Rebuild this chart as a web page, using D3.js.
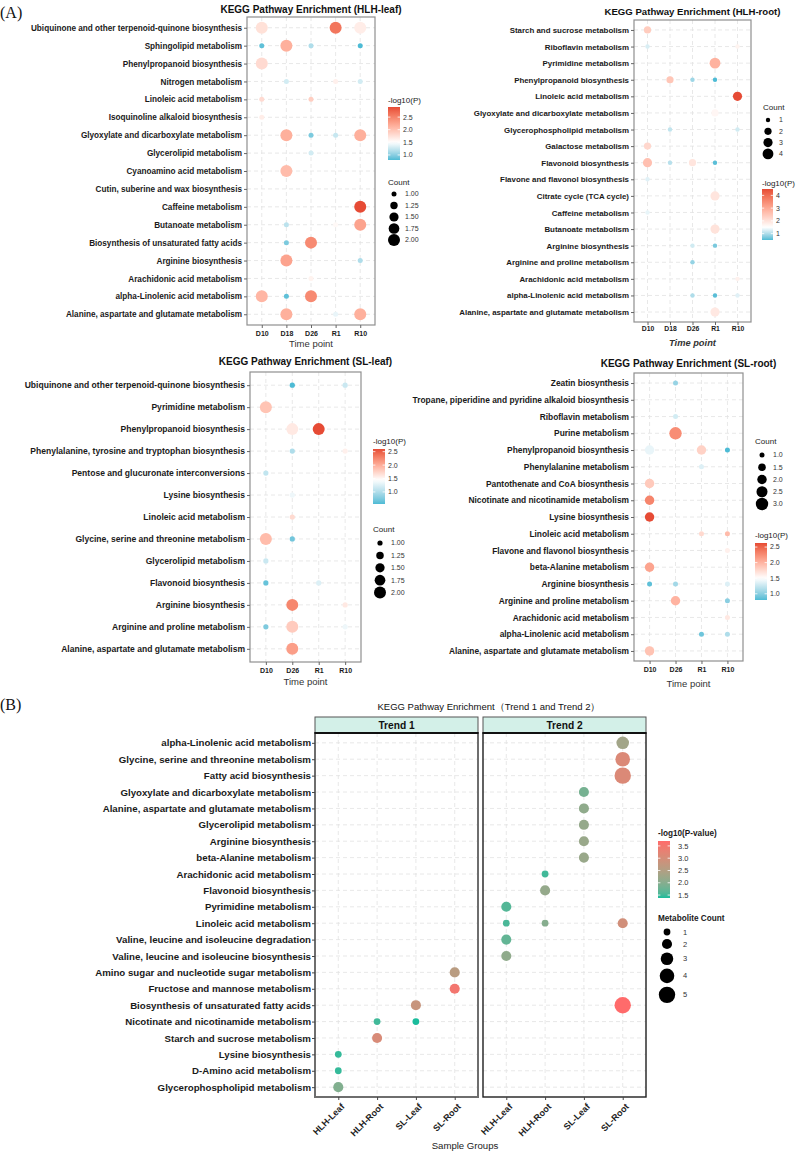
<!DOCTYPE html>
<html><head><meta charset="utf-8">
<script src="https://cdn.jsdelivr.net/npm/d3@7"></script>
<style>body{margin:0;background:#fff}</style>
</head><body>
<svg id="c" width="797" height="1152" xmlns="http://www.w3.org/2000/svg"></svg>
<script>
// ---------------- DATA ----------------
const times5 = ["D10","D18","D26","R1","R10"];
const times4 = ["D10","D26","R1","R10"];

const hlhLeafPaths = ["Ubiquinone and other terpenoid-quinone biosynthesis","Sphingolipid metabolism","Phenylpropanoid biosynthesis","Nitrogen metabolism","Linoleic acid metabolism","Isoquinoline alkaloid biosynthesis","Glyoxylate and dicarboxylate metabolism","Glycerolipid metabolism","Cyanoamino acid metabolism","Cutin, suberine and wax biosynthesis","Caffeine metabolism","Butanoate metabolism","Biosynthesis of unsaturated fatty acids","Arginine biosynthesis","Arachidonic acid metabolism","alpha-Linolenic acid metabolism","Alanine, aspartate and glutamate metabolism"];
// [pathway, time, count, -log10(P)]
const hlhLeafPoints = [
 ["Ubiquinone and other terpenoid-quinone biosynthesis","D10",2,1.75],
 ["Ubiquinone and other terpenoid-quinone biosynthesis","R1",2,2.6],
 ["Ubiquinone and other terpenoid-quinone biosynthesis","R10",2,1.65],
 ["Sphingolipid metabolism","D10",1,0.85],
 ["Sphingolipid metabolism","D18",2,2.15],
 ["Sphingolipid metabolism","D26",1,1.15],
 ["Sphingolipid metabolism","R10",1,0.8],
 ["Phenylpropanoid biosynthesis","D10",2,1.8],
 ["Nitrogen metabolism","D18",1,1.3],
 ["Nitrogen metabolism","R1",1,1.62],
 ["Nitrogen metabolism","R10",1,1.3],
 ["Linoleic acid metabolism","D10",1,1.8],
 ["Linoleic acid metabolism","D26",1,1.9],
 ["Isoquinoline alkaloid biosynthesis","D10",1,1.65],
 ["Glyoxylate and dicarboxylate metabolism","D18",2,2.15],
 ["Glyoxylate and dicarboxylate metabolism","D26",1,0.95],
 ["Glyoxylate and dicarboxylate metabolism","R1",1,1.25],
 ["Glyoxylate and dicarboxylate metabolism","R10",2,2.15],
 ["Glycerolipid metabolism","D26",1,1.3],
 ["Cyanoamino acid metabolism","D18",2,2.05],
 ["Caffeine metabolism","R10",2,2.9],
 ["Butanoate metabolism","D18",1,1.2],
 ["Butanoate metabolism","R1",1,1.55],
 ["Butanoate metabolism","R10",2,2.25],
 ["Biosynthesis of unsaturated fatty acids","D18",1,0.95],
 ["Biosynthesis of unsaturated fatty acids","D26",2,2.45],
 ["Arginine biosynthesis","D18",2,2.25],
 ["Arginine biosynthesis","R10",1,1.15],
 ["Arachidonic acid metabolism","D26",1,1.6],
 ["alpha-Linolenic acid metabolism","D10",2,2.1],
 ["alpha-Linolenic acid metabolism","D18",1,0.85],
 ["alpha-Linolenic acid metabolism","D26",2,2.45],
 ["Alanine, aspartate and glutamate metabolism","D18",2,2.15],
 ["Alanine, aspartate and glutamate metabolism","R1",1,1.4],
 ["Alanine, aspartate and glutamate metabolism","R10",2,2.15]
];
const hlhLeafColorTicks = [1.0,1.5,2.0,2.5];
const hlhLeafCountBreaks = [1,1.25,1.5,1.75,2];

const hlhRootPaths = ["Starch and sucrose metabolism","Riboflavin metabolism","Pyrimidine metabolism","Phenylpropanoid biosynthesis","Linoleic acid metabolism","Glyoxylate and dicarboxylate metabolism","Glycerophospholipid metabolism","Galactose metabolism","Flavonoid biosynthesis","Flavone and flavonol biosynthesis","Citrate cycle (TCA cycle)","Caffeine metabolism","Butanoate metabolism","Arginine biosynthesis","Arginine and proline metabolism","Arachidonic acid metabolism","alpha-Linolenic acid metabolism","Alanine, aspartate and glutamate metabolism"];
const hlhRootPoints = [
 ["Starch and sucrose metabolism","D10",2,2.4],
 ["Riboflavin metabolism","D10",1,1.25],
 ["Riboflavin metabolism","R10",1,1.7],
 ["Pyrimidine metabolism","R1",4,2.85],
 ["Phenylpropanoid biosynthesis","D18",2,2.5],
 ["Phenylpropanoid biosynthesis","D26",1,0.9],
 ["Phenylpropanoid biosynthesis","R1",1,0.5],
 ["Linoleic acid metabolism","R10",3,4.5],
 ["Glyoxylate and dicarboxylate metabolism","R1",2,1.65],
 ["Glycerophospholipid metabolism","D18",1,1.1],
 ["Glycerophospholipid metabolism","R10",1,1.2],
 ["Galactose metabolism","D10",2,2.2],
 ["Flavonoid biosynthesis","D10",3,2.6],
 ["Flavonoid biosynthesis","D18",1,1.05],
 ["Flavonoid biosynthesis","D26",2,1.95],
 ["Flavonoid biosynthesis","R1",1,0.55],
 ["Flavone and flavonol biosynthesis","D10",1,1.3],
 ["Citrate cycle (TCA cycle)","R1",3,1.95],
 ["Caffeine metabolism","D10",1,1.35],
 ["Butanoate metabolism","R1",3,2.0],
 ["Arginine biosynthesis","D26",1,1.2],
 ["Arginine biosynthesis","R1",1,0.7],
 ["Arginine and proline metabolism","D26",1,0.85],
 ["Arachidonic acid metabolism","R10",1,1.75],
 ["alpha-Linolenic acid metabolism","D26",1,1.0],
 ["alpha-Linolenic acid metabolism","R1",1,0.55],
 ["alpha-Linolenic acid metabolism","R10",1,1.3],
 ["Alanine, aspartate and glutamate metabolism","R1",3,1.9]
];
const hlhRootColorTicks = [1,2,3,4];
const hlhRootCountBreaks = [1,2,3,4];

const slLeafPaths = ["Ubiquinone and other terpenoid-quinone biosynthesis","Pyrimidine metabolism","Phenylpropanoid biosynthesis","Phenylalanine, tyrosine and tryptophan biosynthesis","Pentose and glucuronate interconversions","Lysine biosynthesis","Linoleic acid metabolism","Glycine, serine and threonine metabolism","Glycerolipid metabolism","Flavonoid biosynthesis","Arginine biosynthesis","Arginine and proline metabolism","Alanine, aspartate and glutamate metabolism"];
const slLeafPoints = [
 ["Ubiquinone and other terpenoid-quinone biosynthesis","D26",1,0.55],
 ["Ubiquinone and other terpenoid-quinone biosynthesis","R10",1,1.15],
 ["Pyrimidine metabolism","D10",2,1.85],
 ["Phenylpropanoid biosynthesis","D26",2,1.6],
 ["Phenylpropanoid biosynthesis","R1",2,2.6],
 ["Phenylalanine, tyrosine and tryptophan biosynthesis","D26",1,1.0],
 ["Phenylalanine, tyrosine and tryptophan biosynthesis","R10",1,1.55],
 ["Pentose and glucuronate interconversions","D10",1,1.1],
 ["Lysine biosynthesis","D26",1,1.35],
 ["Linoleic acid metabolism","D26",1,1.7],
 ["Glycine, serine and threonine metabolism","D10",2,1.9],
 ["Glycine, serine and threonine metabolism","D26",1,0.7],
 ["Glycerolipid metabolism","D10",1,1.15],
 ["Flavonoid biosynthesis","D10",1,0.65],
 ["Flavonoid biosynthesis","R1",1,1.25],
 ["Arginine biosynthesis","D26",2,2.25],
 ["Arginine biosynthesis","R10",1,1.6],
 ["Arginine and proline metabolism","D10",1,0.75],
 ["Arginine and proline metabolism","D26",2,1.8],
 ["Arginine and proline metabolism","R10",1,1.35],
 ["Alanine, aspartate and glutamate metabolism","D26",2,2.1]
];
const slLeafColorTicks = [1.0,1.5,2.0,2.5];
const slLeafCountBreaks = [1,1.25,1.5,1.75,2];

const slRootPaths = ["Zeatin biosynthesis","Tropane, piperidine and pyridine alkaloid biosynthesis","Riboflavin metabolism","Purine metabolism","Phenylpropanoid biosynthesis","Phenylalanine metabolism","Pantothenate and CoA biosynthesis","Nicotinate and nicotinamide metabolism","Lysine biosynthesis","Linoleic acid metabolism","Flavone and flavonol biosynthesis","beta-Alanine metabolism","Arginine biosynthesis","Arginine and proline metabolism","Arachidonic acid metabolism","alpha-Linolenic acid metabolism","Alanine, aspartate and glutamate metabolism"];
const slRootPoints = [
 ["Zeatin biosynthesis","D26",1,1.05],
 ["Riboflavin metabolism","D26",1,1.3],
 ["Purine metabolism","D26",3,2.25],
 ["Phenylpropanoid biosynthesis","D10",2,1.4],
 ["Phenylpropanoid biosynthesis","R1",2,1.8],
 ["Phenylpropanoid biosynthesis","R10",1,0.8],
 ["Phenylalanine metabolism","R1",1,1.35],
 ["Pantothenate and CoA biosynthesis","D10",2,1.85],
 ["Nicotinate and nicotinamide metabolism","D10",2,2.3],
 ["Lysine biosynthesis","D10",2,2.63],
 ["Linoleic acid metabolism","R1",1,1.75],
 ["Linoleic acid metabolism","R10",1,1.95],
 ["Flavone and flavonol biosynthesis","R10",1,1.6],
 ["beta-Alanine metabolism","D10",2,2.1],
 ["Arginine biosynthesis","D10",1,0.85],
 ["Arginine biosynthesis","D26",1,1.1],
 ["Arginine biosynthesis","R10",1,1.35],
 ["Arginine and proline metabolism","D26",2,2.0],
 ["Arginine and proline metabolism","R10",1,1.0],
 ["Arachidonic acid metabolism","R10",1,1.65],
 ["alpha-Linolenic acid metabolism","R1",1,0.9],
 ["alpha-Linolenic acid metabolism","R10",1,1.15],
 ["Alanine, aspartate and glutamate metabolism","D10",2,1.9]
];
const slRootColorTicks = [1.0,1.5,2.0,2.5];
const slRootCountBreaks = [1,1.5,2,2.5,3];

const groups = ["HLH-Leaf","HLH-Root","SL-Leaf","SL-Root"];
const trendPaths = ["alpha-Linolenic acid metabolism","Glycine, serine and threonine metabolism","Fatty acid biosynthesis","Glyoxylate and dicarboxylate metabolism","Alanine, aspartate and glutamate metabolism","Glycerolipid metabolism","Arginine biosynthesis","beta-Alanine metabolism","Arachidonic acid metabolism","Flavonoid biosynthesis","Pyrimidine metabolism","Linoleic acid metabolism","Valine, leucine and isoleucine degradation","Valine, leucine and isoleucine biosynthesis","Amino sugar and nucleotide sugar metabolism","Fructose and mannose metabolism","Biosynthesis of unsaturated fatty acids","Nicotinate and nicotinamide metabolism","Starch and sucrose metabolism","Lysine biosynthesis","D-Amino acid metabolism","Glycerophospholipid metabolism"];
// [pathway, group, metabolite count, -log10(P-value)]
const trend1Points = [
 ["Glycerophospholipid metabolism","HLH-Leaf",2,1.95],
 ["D-Amino acid metabolism","HLH-Leaf",1,1.45],
 ["Lysine biosynthesis","HLH-Leaf",1,1.45],
 ["Starch and sucrose metabolism","HLH-Root",2,3.05],
 ["Nicotinate and nicotinamide metabolism","HLH-Root",1,1.5],
 ["Nicotinate and nicotinamide metabolism","SL-Leaf",1,1.38],
 ["Biosynthesis of unsaturated fatty acids","SL-Leaf",2,2.8],
 ["Fructose and mannose metabolism","SL-Root",2,3.5],
 ["Amino sugar and nucleotide sugar metabolism","SL-Root",2,2.6]
];
const trend2Points = [
 ["alpha-Linolenic acid metabolism","SL-Root",3,2.3],
 ["Glycine, serine and threonine metabolism","SL-Root",4,3.1],
 ["Fatty acid biosynthesis","SL-Root",5,3.1],
 ["Glyoxylate and dicarboxylate metabolism","SL-Leaf",2,1.85],
 ["Alanine, aspartate and glutamate metabolism","SL-Leaf",2,2.1],
 ["Glycerolipid metabolism","SL-Leaf",2,2.15],
 ["Arginine biosynthesis","SL-Leaf",2,2.2],
 ["beta-Alanine metabolism","SL-Leaf",2,2.2],
 ["Arachidonic acid metabolism","HLH-Root",1,1.5],
 ["Flavonoid biosynthesis","HLH-Root",2,2.15],
 ["Pyrimidine metabolism","HLH-Leaf",2,1.6],
 ["Linoleic acid metabolism","HLH-Leaf",1,1.55],
 ["Linoleic acid metabolism","HLH-Root",1,2.0],
 ["Linoleic acid metabolism","SL-Root",2,2.95],
 ["Valine, leucine and isoleucine degradation","HLH-Leaf",2,1.7],
 ["Valine, leucine and isoleucine biosynthesis","HLH-Leaf",2,2.1],
 ["Biosynthesis of unsaturated fatty acids","SL-Root",5,3.7]
];
const trendColorTicks = [1.5,2.0,2.5,3.0,3.5];
const trendCountBreaks = [1,2,3,4,5];

// ---------------- DRAWING ----------------
const FONT = "'Liberation Sans', Arial, Helvetica, sans-serif";
const BLUE = "#4DBBD5", RED = "#E64B35", TEAL = "#1ABC9C", CORAL = "#FF6B6B";
const svg = d3.select("#c");
const defs = svg.append("defs");
let gradId = 0;

function txt(g, x, y, s, fs, opts = {}) {
  return g.append("text").attr("x", x).attr("y", y).text(s)
    .style("font-family", opts.family || FONT).style("font-size", fs + "px")
    .style("font-weight", opts.weight || "normal").style("font-style", opts.style || "normal")
    .attr("fill", opts.fill || "#1a1a1a").attr("text-anchor", opts.anchor || "start");
}

function colorbar(g, c) {
  const id = "grad" + (gradId++);
  const gr = defs.append("linearGradient").attr("id", id).attr("x1", 0).attr("y1", 1).attr("x2", 0).attr("y2", 0);
  d3.range(0, 1.0001, 0.05).forEach(t => gr.append("stop").attr("offset", t)
    .attr("stop-color", c.color(c.dom[0] + t * (c.dom[1] - c.dom[0]))));
  txt(g, c.x, c.titleY, c.title, c.titleFs || 8, {weight: c.titleWeight || "normal"});
  g.append("rect").attr("x", c.x).attr("y", c.y).attr("width", c.w).attr("height", c.h).attr("fill", `url(#${id})`);
  const s = d3.scaleLinear().domain(c.dom).range([c.y + c.h, c.y]);
  c.ticks.forEach(t => {
    g.append("line").attr("x1", c.x).attr("x2", c.x + c.w * 0.2).attr("y1", s(t)).attr("y2", s(t)).attr("stroke", "#fff").attr("stroke-width", 0.8);
    g.append("line").attr("x1", c.x + c.w * 0.8).attr("x2", c.x + c.w).attr("y1", s(t)).attr("y2", s(t)).attr("stroke", "#fff").attr("stroke-width", 0.8);
    txt(g, c.labelX, s(t), d3.format(c.fmt)(t), c.labelFs || 7, {fill: "#333"}).attr("dy", "0.35em");
  });
}

function sizeLegend(g, c) {
  txt(g, c.x, c.titleY, c.title, c.titleFs || 8, {weight: c.titleWeight || "normal"});
  let y = c.y0;
  c.values.forEach((v, i) => {
    if (i > 0) y += c.step ? c.step : (c.rad(c.values[i - 1]) + c.rad(v) + c.gap);
    g.append("circle").attr("cx", c.cx).attr("cy", y).attr("r", c.rad(v)).attr("fill", "#000");
    txt(g, c.labelX, y, d3.format(c.fmt)(v), c.labelFs || 7, {fill: "#333"}).attr("dy", "0.35em");
  });
}

function gridLines(g, x, y, x0, x1, y0, y1, xs, ys) {
  g.append("g").selectAll("line").data(xs).join("line")
    .attr("x1", d => x(d)).attr("x2", d => x(d)).attr("y1", y0).attr("y2", y1)
    .attr("stroke", "#e2e2e2").attr("stroke-width", 0.8).attr("stroke-dasharray", "4,3");
  g.append("g").selectAll("line").data(ys).join("line")
    .attr("x1", x0).attr("x2", x1).attr("y1", d => y(d)).attr("y2", d => y(d))
    .attr("stroke", "#e2e2e2").attr("stroke-width", 0.8).attr("stroke-dasharray", "4,3");
}

function drawA(o) {
  const g = svg.append("g");
  const b = o.box;
  const x = d3.scalePoint().domain(o.times).range([b.x0, b.x1]).padding(0.6);
  const y = d3.scalePoint().domain(o.paths).range([b.y0, b.y1]).padding(0.6);
  const ext = d3.extent(o.points, d => d[3]);
  const color = d3.scaleLinear().domain([ext[0], o.mid, ext[1]]).range([BLUE, "#ffffff", RED]).interpolate(d3.interpolateLab).clamp(true);
  const cext = d3.extent(o.points, d => d[2]);
  const area = d3.scaleLinear().domain(cext).range([o.r[0] ** 2, o.r[1] ** 2]);
  const rad = c => Math.sqrt(area(c));

  gridLines(g, x, y, b.x0, b.x1, b.y0, b.y1, o.times, o.paths);
  g.append("g").selectAll("circle").data(o.points).join("circle")
    .attr("cx", d => x(d[1])).attr("cy", d => y(d[0])).attr("r", d => rad(d[2])).attr("fill", d => color(d[3]));
  g.append("rect").attr("x", b.x0).attr("y", b.y0).attr("width", b.x1 - b.x0).attr("height", b.y1 - b.y0)
    .attr("fill", "none").attr("stroke", "#8f8f8f").attr("stroke-width", 1.2);

  const ay = g.append("g").attr("transform", `translate(${b.x0},0)`).call(d3.axisLeft(y).tickSize(3).tickPadding(2));
  ay.select(".domain").remove();
  ay.selectAll(".tick line").attr("stroke", "#666");
  ay.selectAll("text").style("font-family", FONT).style("font-size", o.yfs + "px").style("font-weight", "bold").attr("fill", "#1a1a1a");
  const ax = g.append("g").attr("transform", `translate(0,${b.y1})`).call(d3.axisBottom(x).tickSize(3).tickPadding(o.xpad));
  ax.select(".domain").remove();
  ax.selectAll(".tick line").attr("stroke", "#666");
  ax.selectAll("text").style("font-family", FONT).style("font-size", o.xfs + "px").style("font-weight", "bold").attr("fill", "#1a1a1a");

  txt(g, (b.x0 + b.x1) / 2, o.titleY, o.title, o.titleFs, {weight: "bold", anchor: "middle", fill: "#111"});
  txt(g, (b.x0 + b.x1) / 2, o.xlabY, "Time point", o.xlabFs, {anchor: "middle", fill: "#333", weight: o.xlabBold ? "bold" : "normal", style: o.xlabBold ? "italic" : "normal"});

  colorbar(g, Object.assign({color, dom: ext, title: "-log10(P)"}, o.cb));
  sizeLegend(g, Object.assign({rad, title: "Count"}, o.sz));
}

// Panel labels
txt(svg, 0, 18, "(A)", 16, {family: "'Liberation Serif', 'Times New Roman', serif", fill: "#111"});
txt(svg, 0, 710, "(B)", 16, {family: "'Liberation Serif', 'Times New Roman', serif", fill: "#111"});

drawA({times: times5, paths: hlhLeafPaths, points: hlhLeafPoints, mid: 1.5,
  box: {x0: 247, x1: 375, y0: 17, y1: 325}, r: [2.5, 6], yfs: 8.2, xfs: 7, xpad: 3,
  title: "KEGG Pathway Enrichment (HLH-leaf)", titleFs: 10, titleY: 12.5, xlabY: 346.5, xlabFs: 9.5,
  cb: {x: 388, y: 107, w: 12, h: 53, titleY: 103, ticks: hlhLeafColorTicks, fmt: ".1f", labelX: 403},
  sz: {x: 388, titleY: 185, cx: 394, y0: 194, step: 11.5, values: hlhLeafCountBreaks, fmt: ".2f", labelX: 405}});

drawA({times: times5, paths: hlhRootPaths, points: hlhRootPoints, mid: 1.5,
  box: {x0: 634, x1: 751, y0: 20, y1: 322}, r: [2.2, 5.4], yfs: 7.9, xfs: 6.8, xpad: 1,
  title: "KEGG Pathway Enrichment (HLH-root)", titleFs: 9.6, titleY: 14.5, xlabY: 345.5, xlabFs: 9.3, xlabBold: true,
  cb: {x: 762, y: 189, w: 11, h: 51, titleY: 186, ticks: hlhRootColorTicks, fmt: "d", labelX: 776},
  sz: {x: 763, titleY: 110, cx: 768, y0: 120, step: 11.3, values: hlhRootCountBreaks, fmt: "d", labelX: 779}});

drawA({times: times4, paths: slLeafPaths, points: slLeafPoints, mid: 1.45,
  box: {x0: 250, x1: 361, y0: 372, y1: 662}, r: [2.6, 6], yfs: 8.55, xfs: 7, xpad: 3,
  title: "KEGG Pathway Enrichment (SL-leaf)", titleFs: 10, titleY: 364.5, xlabY: 684.5, xlabFs: 9.5,
  cb: {x: 373, y: 449, w: 12, h: 55, titleY: 444, ticks: slLeafColorTicks, fmt: ".1f", labelX: 388},
  sz: {x: 373, titleY: 532, cx: 380, y0: 543, step: 12.4, values: slLeafCountBreaks, fmt: ".2f", labelX: 391}});

drawA({times: times4, paths: slRootPaths, points: slRootPoints, mid: 1.5,
  box: {x0: 634, x1: 743, y0: 373, y1: 661}, r: [2.5, 6.2], yfs: 8.4, xfs: 7, xpad: 3,
  title: "KEGG Pathway Enrichment (SL-root)", titleFs: 10, titleY: 366.5, xlabY: 686.5, xlabFs: 9.5,
  cb: {x: 755, y: 543, w: 12, h: 57, titleY: 538, ticks: slRootColorTicks, fmt: ".1f", labelX: 770},
  sz: {x: 755, titleY: 444, cx: 762, y0: 455, step: 12.25, values: slRootCountBreaks, fmt: ".1f", labelX: 773}});

// ---------------- PANEL B ----------------
(function () {
  const g = svg.append("g");
  const top = 733, bottom = 1097, stripTop = 717;
  const facets = [
    {name: "Trend 1", x0: 315, x1: 478, pts: trend1Points, stroke: "#6e6e6e", sw: 2},
    {name: "Trend 2", x0: 483, x1: 646, pts: trend2Points, stroke: "#1e1e1e", sw: 1.4}
  ];
  const y = d3.scalePoint().domain(trendPaths).range([top, bottom]).padding(0.6);
  const all = trend1Points.concat(trend2Points);
  const ext = d3.extent(all, d => d[3]);
  const color = d3.scaleLinear().domain(ext).range([TEAL, CORAL]).interpolate(d3.interpolateLab);
  const area = d3.scaleLinear().domain([1, 5]).range([3.4 ** 2, 8.2 ** 2]);
  const rad = c => Math.sqrt(area(c));

  facets.forEach((f, i) => {
    const x = d3.scalePoint().domain(groups).range([f.x0, f.x1]).padding(0.6);
    gridLines(g, x, y, f.x0, f.x1, top, bottom, groups, trendPaths);
    g.append("g").selectAll("circle").data(f.pts).join("circle")
      .attr("cx", d => x(d[1])).attr("cy", d => y(d[0])).attr("r", d => rad(d[2])).attr("fill", d => color(d[3]));
    g.append("rect").attr("x", f.x0).attr("y", top).attr("width", f.x1 - f.x0).attr("height", bottom - top)
      .attr("fill", "none").attr("stroke", f.stroke).attr("stroke-width", f.sw);
    g.append("rect").attr("x", f.x0).attr("y", stripTop).attr("width", f.x1 - f.x0).attr("height", top - stripTop)
      .attr("fill", "#d3f0e8").attr("stroke", "#555").attr("stroke-width", 1);
    g.append("line").attr("x1", f.x0 - 0.5).attr("x2", f.x1 + 0.5).attr("y1", top).attr("y2", top).attr("stroke", "#111").attr("stroke-width", 2);
    txt(g, (f.x0 + f.x1) / 2, 728.5, f.name, 10.2, {weight: "bold", anchor: "middle", fill: "#111"});
    const ax = g.append("g").attr("transform", `translate(0,${bottom})`).call(d3.axisBottom(x).tickSize(3));
    ax.select(".domain").remove();
    ax.selectAll(".tick line").attr("stroke", "#444");
    ax.selectAll("text").attr("x", null).attr("y", null).attr("dy", "0.35em")
      .attr("transform", "translate(4,8) rotate(-45)").attr("text-anchor", "end")
      .style("font-family", FONT).style("font-size", "9px").style("font-weight", "bold").attr("fill", "#222");
    if (i === 0) {
      const ay = g.append("g").attr("transform", `translate(${f.x0},0)`).call(d3.axisLeft(y).tickSize(3).tickPadding(1));
      ay.select(".domain").remove();
      ay.selectAll(".tick line").attr("stroke", "#444");
      ay.selectAll("text").style("font-family", FONT).style("font-size", "9.7px").style("font-weight", "bold").attr("fill", "#1a1a1a");
    }
  });

  txt(g, 489, 710, "KEGG Pathway Enrichment（Trend 1 and Trend 2）", 9.5, {anchor: "middle", fill: "#111"});
  txt(g, 465, 1149, "Sample Groups", 9.6, {anchor: "middle", fill: "#222"});

  colorbar(g, {color, dom: ext, title: "-log10(P-value)", titleWeight: "bold", titleFs: 8.2,
    x: 658, y: 841, w: 12, h: 57, titleY: 836, ticks: trendColorTicks, fmt: ".1f", labelX: 678, labelFs: 7.5});
  sizeLegend(g, {rad, title: "Metabolite Count", titleWeight: "bold", titleFs: 8.2,
    x: 658, titleY: 921, cx: 667, y0: 932, gap: 3.5, values: trendCountBreaks, fmt: "d", labelX: 683, labelFs: 7.5});
})();
</script>
</body></html>
